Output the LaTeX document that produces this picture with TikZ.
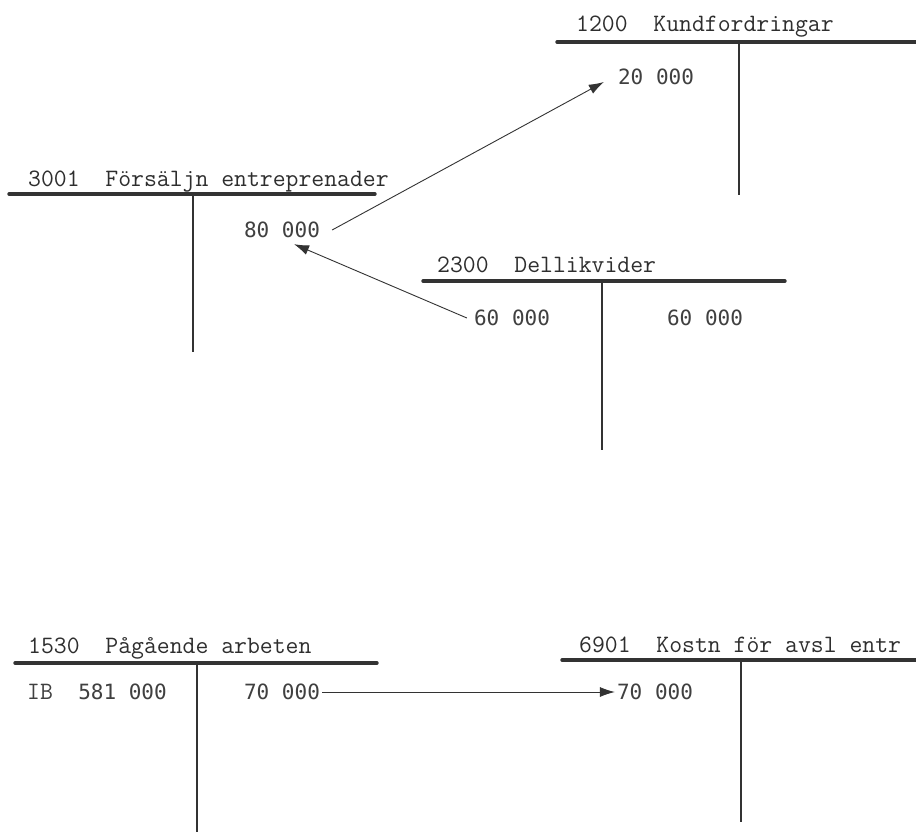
\documentclass[tikz,border=0pt]{standalone}
\usepackage{fontspec}
\newfontfamily\numfont{DejaVu Sans Mono}
\usetikzlibrary{arrows.meta,calc}
\definecolor{ink}{HTML}{2E2E2E}
\definecolor{numink}{HTML}{404040}
\definecolor{lineink}{HTML}{333333}
\newcommand{\titlefont}{\fontsize{25}{28}\selectfont\ttfamily}
\tikzset{
  acctitle/.style={font=\titlefont, text=ink, inner sep=0pt, anchor=base west},
  amount/.style={font=\fontsize{21}{24}\selectfont\numfont, text=numink, inner sep=2pt},
  headline/.style={draw=lineink, line width=3.4pt, line cap=round},
  splitline/.style={draw=lineink, line width=2.4pt},
  flow/.style={-{Latex[length=15pt,width=10pt]}, draw=lineink, line width=0.9pt},
}

\begin{document}
\begin{tikzpicture}[x=1pt, y=-1pt]
\useasboundingbox[fill=white] (0,0) rectangle (916,832);

% 1200 Kundfordringar
\node[acctitle] (t1200) at (576,32) {1200~~Kundfordringar};
\draw[headline] (557,42) -- (916,42);
\draw[splitline] (739,42) -- (739,195);
\node[amount] (a20) at (656,77) {20~000};

% 3001 Forsaljn entreprenader
\node[acctitle] (t3001) at (28,186) {3001~~Försäljn entreprenader};
\draw[headline] (9,194) -- (375,194);
\draw[splitline] (193,194) -- (193,352);
\node[amount] (a80) at (282,230) {80~000};

% 2300 Dellikvider
\node[acctitle] (t2300) at (437,272) {2300~~Dellikvider};
\draw[headline] (423,281) -- (785,281);
\draw[splitline] (602,281) -- (602,450);
\node[amount] (a60l) at (512,318) {60~000};
\node[amount] (a60r) at (705,318) {60~000};

% 1530 Pagaende arbeten
\node[acctitle] (t1530) at (28,653) {1530~~Pågående arbeten};
\draw[headline] (15,663) -- (377,663);
\draw[splitline] (197,663) -- (197,832);
\node[amount] (aIB) at (97,692) {{\titlefont IB}~~581~000};
\node[amount] (a70l) at (282,692) {70~000};

% 6901 Kostn for avsl entr
\node[acctitle] (t6901) at (579,652) {6901~~Kostn för avsl entr};
\draw[headline] (562,660) -- (916,660);
\draw[splitline] (741,660) -- (741,822);
\node[amount] (a70r) at (655,692) {70~000};

% Transfers
\draw[flow] ([xshift=10pt]a80.east) -- ([xshift=-12pt,yshift=-5pt]a20.west);
\draw[flow] ([xshift=-5pt]a60l.west) -- ([xshift=12pt,yshift=-4pt]a80.south);
\draw[flow] (a70l.east) -- (a70r.west);

\end{tikzpicture}
\end{document}
